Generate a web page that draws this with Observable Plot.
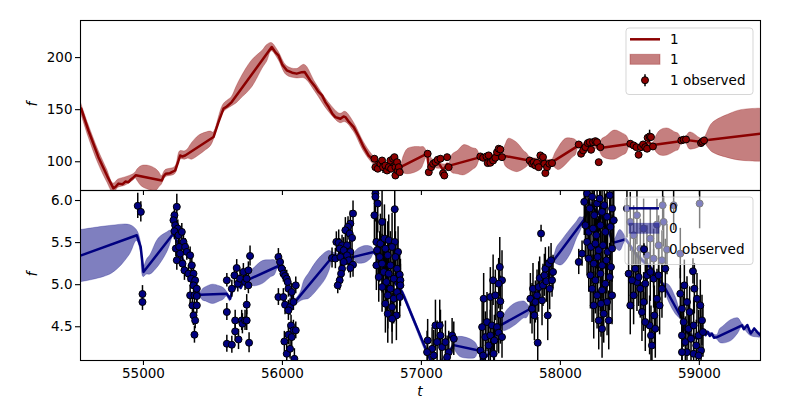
<!DOCTYPE html>
<html><head><meta charset="utf-8">
<script src="https://cdn.jsdelivr.net/npm/d3@7"></script>
<script src="https://cdn.jsdelivr.net/npm/@observablehq/plot@0.6"></script>
<style>
body{margin:0;background:#fff;font-family:"DejaVu Sans",sans-serif}
#wrap{position:relative;width:800px;height:400px;overflow:hidden}
#wrap svg.plotsvg{display:block}
.lab{position:absolute;font-family:"DejaVu Sans",sans-serif;font-style:italic;font-size:13.5px;line-height:14px;color:#000}
</style></head><body><div id="wrap"></div>
<script>
// ---------- shared x ----------
const xTicks = [55000, 56000, 57000, 58000, 59000];
const xDomain = [54547, 59440];

// ---------- series "1" (top panel) ----------
const yTicks1 = [100, 150, 200];
const yDomain1 = [72.4, 235.6];
const line1 = [
[54552,151],[54604,130],[54676,104.4],[54740,86],[54784,74.5],[54800,76],[54820,79],[54850,78.5],[54870,81],[54892,80.4],[54910,83],[54928,85],[54945,87],
[55132,82],[55145,86],[55160,88.5],[55190,89],[55228,91.6],[55250,100],[55264,106],[55280,105],[55300,106],
[55504,123.7],[55540,138],[55576,151],[55600,153],[55635,157.3],
[55923,210.2],[55950,205],[55971,202.2],[56000,193],[56031,187.8],[56070,185.5],[56103,184.6],[56140,186],[56160,186.2],
[56200,178],[56237,171.7],[56260,167],[56285,163.7],[56310,157],[56333,152.5],[56360,146],[56381,142.9],[56417,141.3],[56440,143.5],[56453,142.9],[56480,138],[56513,133.3],[56550,124],[56585,114],[56620,106],[56645,102.9],
[56662,102],[56690,96],[56720,97],[56760,95],[56800,98],[56830,95],[56849,94.8],
[57041,107.7],[57053,95],[57084,97],[57117,100],[57156,92],[57185,98],[57196,96],
[57425,104.4],[57470,103],[57500,104],[57540,107],[57580,106],
[57784,101],[57820,98],[57860,101],[57900,97],[57940,99.6],
[58132,115.7],[58170,113],[58210,116],[58250,117],[58276,113],
[58503,117.3],[58550,115],[58580,114],[58630,119],[58666,116],
[58875,120],[58900,121],[59018,119],[59030,120.5],[59438,127]
];
const band1 = [
[54552,146,156],[54604,124,136],[54676,98,111],[54740,80,92],[54784,70,79],[54820,75,83],[54870,77,85],[54928,82,88],[54945,84,90],
[54960,81,93],[54990,76,96],[55040,73,96],[55090,72,93],[55118,76,89],[55132,78,86],[55160,85,92],[55228,88,95],[55264,102,110],[55300,102,110],
[55320,103,112],[55350,102,118],[55400,106,125],[55450,111,128],[55485,115,129],[55504,120,128],[55576,147,155],[55635,153,162],
[55670,156,172],[55700,160,180],[55780,171,197],[55860,190,207],[55890,196,212],[55923,206,214],[55971,198,206],[56031,183,192],[56103,180,189],[56160,180,193],
[56237,167,176],[56333,148,157],[56417,137,146],[56453,138,148],[56513,129,138],[56585,110,119],[56645,99,107],[56700,93,100],[56760,92,98],[56849,92,97],
[56872,89,105],[56900,88,112],[56945,89,114],[57000,93,114],[57018,98,114],[57041,104,110],[57100,94,100],[57196,93,98],
[57225,89,107],[57260,88,110],[57310,87,116],[57370,92,113],[57398,95,112],[57425,102,107],[57500,101,107],[57580,104,109],
[57605,96,116],[57630,93,122],[57690,90,118],[57740,93,110],[57760,95,108],[57784,98,104],[57860,98,103],[57940,97,102],
[57963,94,108],[57990,92,114],[58040,97,122],[58090,104,122],[58110,106,121],[58132,113,118],[58210,113,118],[58276,111,116],
[58303,105,122],[58330,103,124],[58390,102,130],[58450,106,127],[58476,108,125],[58503,115,119],[58580,112,116],[58666,114,118],
[58692,109,125],[58720,106,130],[58770,106,132],[58830,110,128],[58850,111,127],[58875,118,122],[58900,119,123],
[58930,112,128],[58960,112,127],[59000,114,123],[59030,118,122],
[59095,109,137],[59223,103,146],[59300,101,149.5],[59438,100,151]
];
const obs1 = [
[56662,102.9,2.5],[56669,94.8,2.5],[56686,93.3,2.5],[56705,98.1,2.5],[56717,101.2,2.5],[56724,94.8,6],[56741,96.4,2.5],[56753,91.6,2.5],[56765,94.8,2.5],[56777,101.2,2.5],[56782,93.3,2.5],[56796,102.9,2.5],[56806,104.4,2.5],[56813,94.8,2.5],[56813,86.8,2.5],[56825,99.6,2.5],[56830,91.6,2.5],[56837,94.8,2.5],[56844,90,2.5],
[57045,107.7,2.5],[57053,90,2.5],[57070,94.8,2.5],[57084,98.1,2.5],[57101,99.6,2.5],[57117,101.9,2.5],[57137,102.9,2.5],[57156,89.0,2.5],[57165,86.8,2.5],[57185,104.4,2.5],[57196,94.8,2.5],
[57424,105.1,2.5],[57444,103.8,2.5],[57468,105.1,2.5],[57477,98.7,2.5],[57484,106.1,2.5],[57496,99,2.5],[57516,101.2,2.5],[57532,103.8,2.5],[57544,109.2,5],[57556,112.5,2.5],[57568,111.8,2.5],[57580,104.4,2.5],
[57779,101.2,2.5],[57796,98.1,2.5],[57808,99.6,2.5],[57820,96.4,2.5],[57832,99,2.5],[57844,94.8,2.5],[57856,106.1,2.5],[57875,104.4,2.5],[57885,98.1,2.5],[57892,89.1,2.5],[57904,94.8,2.5],[57921,98.1,2.5],[57940,98.7,2.5],
[58132,116.6,2.5],[58149,107.7,2.5],[58164,110.9,2.5],[58180,114,2.5],[58197,117.9,2.5],[58211,118.8,2.5],[58221,111.5,2.5],[58235,118.8,2.5],[58252,119.8,2.5],[58264,118.8,2.5],[58276,99.6,2.5],[58288,114,2.5],
[58503,117.3,2.5],[58527,115.7,2.5],[58547,114,2.5],[58563,106.7,2.5],[58580,114,2.5],[58595,116.6,2.5],[58611,114,5],[58624,112.5,2.5],[58628,123.1,2.5],[58642,124.3,6],[58652,123.7,2.5],[58666,114.7,2.5],
[58870,120.5,2.5],[58887,121.2,2.5],[58904,121.4,2.5],[59012,117.9,2.5],[59021,119.2,2.5],[59034,120.5,2.5]
];

// ---------- series "0" (bottom panel) ----------
const yTicks0 = [4.5, 5.0, 5.5, 6.0];
const yDomain0 = [4.099, 6.119];
const line0 = [
[54552,5.349],[54952,5.587],[54980,5.45],[55000,5.151],[55216,5.607],[55250,5.48],[55300,5.2],[55360,4.98],[55408,4.881],
[55599,4.893],[55624,4.833],[55640,4.932],[55660,4.97],[55680,5.0],[55700,4.96],[55720,5.03],[55743,5.051],
[55971,5.222],[56000,5.15],[56040,4.95],[56070,4.85],[56091,4.794],[56129,4.873],
[56369,5.349],[56420,5.33],[56470,5.32],[56513,5.33],[56657,5.389],[56700,5.3],[56760,5.15],[56820,5.0],[56861,4.913],
[57041,4.199],[57080,4.05],[57150,4.05],[57200,4.2],[57232,4.282],[57412,4.217],[57440,4.1],[57500,4.2],[57545,4.49],[57568,4.516],
[57784,4.714],[57820,4.85],[57870,5.0],[57904,5.167],[57952,5.289],[58168,5.765],[58220,5.95],[58300,5.8],[58384,5.50],[58470,5.54],
[58550,5.35],[58650,5.2],[58743,4.99],[58875,4.595],[58900,4.45],[58950,4.38],[58990,4.36],[59031,4.437],
[59045,4.40],[59060,4.44],[59075,4.39],[59090,4.42],[59105,4.37],[59127,4.377],[59307,4.516],[59320,4.47],[59345,4.52],[59370,4.42],[59395,4.48],[59420,4.43],[59438,4.40]
];
const band0 = [
[54552,5.03,5.65],[54772,5.13,5.70],[54900,5.35,5.71],[54952,5.52,5.65],[54980,5.40,5.52],[55000,5.09,5.20],
[55026,5.12,5.30],[55050,5.12,5.35],[55110,5.22,5.55],[55170,5.38,5.62],[55190,5.46,5.64],[55216,5.57,5.64],[55300,5.17,5.23],[55408,4.85,4.91],
[55430,4.81,4.95],[55450,4.80,4.97],[55500,4.77,5.00],[55550,4.80,4.98],[55577,4.82,4.96],[55599,4.86,4.92],[55624,4.80,4.86],[55640,4.90,4.96],[55743,5.02,5.08],
[55770,4.99,5.15],[55800,4.98,5.20],[55860,5.01,5.28],[55920,5.09,5.29],[55944,5.11,5.29],[55971,5.19,5.25],[56040,4.92,4.98],[56091,4.76,4.83],[56129,4.80,4.90],
[56158,4.82,5.05],[56190,4.83,5.13],[56250,4.93,5.28],[56310,5.06,5.38],[56340,5.17,5.40],[56369,5.31,5.38],[56440,5.30,5.36],[56513,5.30,5.36],
[56530,5.27,5.40],[56550,5.25,5.43],[56600,5.26,5.46],[56640,5.31,5.45],[56657,5.36,5.42],[56760,5.12,5.18],[56861,4.88,4.95],[56950,4.53,4.60],[57041,4.17,4.23],
[57100,4.02,4.08],[57180,4.10,4.16],[57232,4.25,4.31],[57253,4.19,4.37],[57280,4.14,4.38],[57340,4.12,4.36],[57390,4.13,4.31],[57412,4.19,4.25],[57480,4.15,4.21],[57568,4.49,4.55],
[57594,4.45,4.63],[57620,4.46,4.70],[57680,4.52,4.78],[57740,4.60,4.80],[57758,4.60,4.78],[57784,4.68,4.74],[57870,4.97,5.03],[57952,5.26,5.32],
[57978,5.24,5.45],[58010,5.23,5.52],[58070,5.35,5.65],[58120,5.55,5.75],[58142,5.62,5.80],[58168,5.73,5.80],[58220,5.92,5.98],[58300,5.77,5.83],
[58384,5.47,5.53],[58430,5.40,5.65],[58470,5.51,5.57],[58550,5.32,5.38],[58650,5.17,5.23],[58743,4.96,5.02],
[58780,4.80,5.00],[58830,4.65,4.85],[58875,4.57,4.62],[58950,4.35,4.41],[59031,4.41,4.46],[59127,4.35,4.40],
[59148,4.31,4.47],[59170,4.30,4.50],[59230,4.33,4.58],[59280,4.42,4.60],[59307,4.49,4.54],[59370,4.39,4.45],[59438,4.37,4.43]
];
const obs0 = [
[54959,5.937,0.15],[54981,5.865,0.12],[54993,4.889,0.1],[54993,4.794,0.1],
[55240,5.925,0.15],[55223,5.825,0.12],[55216,5.766,0.1],[55228,5.706,0.12],[55247,5.667,0.1],[55223,5.635,0.1],[55252,5.587,0.12],[55276,5.627,0.1],[55288,5.508,0.12],[55233,5.429,0.1],[55257,5.449,0.12],[55300,5.449,0.1],[55240,5.290,0.12],[55264,5.369,0.1],[55281,5.250,0.12],[55312,5.389,0.1],[55295,5.171,0.12],[55336,5.349,0.1],[55324,5.131,0.1],[55348,5.230,0.12],[55360,5.131,0.1],[55343,5.071,0.12],[55372,5.052,0.1],[55360,4.992,0.1],[55336,4.873,0.12],[55384,4.952,0.1],[55367,4.873,0.1],[55352,4.754,0.12],[55384,4.754,0.1],[55360,4.635,0.12],[55372,4.575,0.1],[55367,4.405,0.1],[55384,4.865,0.1],
[55600,5.052,0.08],[55600,4.675,0.1],[55600,4.298,0.1],[55636,4.952,0.1],[55636,4.286,0.1],[55655,5.111,0.1],[55660,4.575,0.12],[55660,4.445,0.12],[55671,5.198,0.1],[55679,5.012,0.1],[55684,4.349,0.12],[55695,5.071,0.1],[55707,4.575,0.12],[55712,4.536,0.12],[55719,5.151,0.1],[55731,4.575,0.12],[55731,5.032,0.1],[55743,4.762,0.12],[55743,4.575,0.12],[55755,5.171,0.1],[55755,4.992,0.1],[55760,4.310,0.12],[55767,5.341,0.12],[55743,5.071,0.1],
[55971,5.329,0.1],[55983,5.270,0.1],[55995,5.190,0.1],[56007,5.131,0.1],[56019,5.103,0.1],[56031,5.071,0.1],[56038,5.032,0.1],[55971,4.853,0.1],[56007,4.853,0.1],[56043,4.952,0.1],[56067,4.913,0.1],[56096,4.992,0.1],[56019,4.762,0.12],[56055,4.734,0.1],[56079,4.794,0.1],[56043,4.695,0.12],[56062,4.516,0.12],[56079,4.457,0.12],[56096,4.457,0.1],[56043,4.405,0.12],[56067,4.377,0.12],[56014,4.325,0.12],[56031,4.179,0.12],[56055,4.238,0.12],[56086,4.119,0.12],
[56508,5.845,0.15],[56489,5.726,0.15],[56472,5.687,0.12],[56453,5.647,0.15],[56484,5.607,0.12],[56501,5.556,0.15],[56388,5.508,0.12],[56405,5.500,0.15],[56429,5.468,0.12],[56465,5.468,0.15],[56412,5.429,0.12],[56441,5.409,0.15],[56489,5.389,0.12],[56357,5.317,0.12],[56381,5.310,0.12],[56417,5.329,0.15],[56465,5.349,0.12],[56477,5.290,0.15],[56441,5.270,0.12],[56508,5.238,0.15],[56489,5.198,0.12],[56429,5.190,0.15],[56422,5.131,0.12],[56412,5.052,0.12],[56398,4.992,0.1],
[56669,6.083,0.3],[56686,5.964,0.35],[56669,6.044,0.3],[56662,5.825,0.3],[56717,5.746,0.4],[56808,5.897,0.45],[56676,5.508,0.3],[56705,5.488,0.35],[56734,5.548,0.4],[56765,5.528,0.3],[56808,5.508,0.35],[56832,5.389,0.3],[56789,5.448,0.4],[56681,5.409,0.3],[56741,5.429,0.35],[56700,5.329,0.3],[56758,5.349,0.4],[56813,5.329,0.3],[56676,5.230,0.3],[56717,5.250,0.35],[56777,5.230,0.4],[56825,5.190,0.3],[56729,5.151,0.35],[56765,5.131,0.3],[56844,5.119,0.3],[56693,5.091,0.3],[56801,5.071,0.4],[56748,5.032,0.35],[56849,5.052,0.25],[56717,4.972,0.3],[56777,4.952,0.35],[56825,4.913,0.3],[56758,4.873,0.4],[56801,4.833,0.3],[56844,4.853,0.25],[56741,4.774,0.35],[56789,4.734,0.3],[56758,4.655,0.35],[56820,4.635,0.3],[56789,4.595,0.3],[56849,4.992,0.25],
[57045,4.337,0.25],[57101,4.516,0.3],[57132,4.516,0.3],[57077,4.238,0.25],[57113,4.318,0.25],[57149,4.258,0.3],[57173,4.318,0.25],[57197,4.198,0.25],[57221,4.397,0.2],[57233,4.357,0.2],[57137,4.397,0.3],[57041,4.198,0.25],[57089,4.159,0.3],[57185,4.139,0.25],
[57564,5.210,0.35],[57516,5.052,0.3],[57580,5.052,0.35],[57556,5.012,0.3],[57448,4.833,0.3],[57496,4.853,0.35],[57568,4.802,0.3],[57532,4.873,0.3],[57437,4.496,0.3],[57472,4.556,0.35],[57508,4.516,0.3],[57544,4.496,0.3],[57568,4.643,0.35],[57460,4.377,0.3],[57496,4.397,0.3],[57525,4.337,0.3],[57556,4.429,0.25],[57425,4.218,0.3],[57484,4.278,0.3],[57520,4.179,0.3],[57444,4.159,0.3],[57580,4.377,0.25],
[57784,4.833,0.3],[57796,4.714,0.3],[57803,4.952,0.3],[57813,4.635,0.3],[57820,4.794,0.25],[57832,4.873,0.3],[57837,4.310,0.3],[57844,4.972,0.3],[57851,5.079,0.25],[57861,5.607,0.1],[57868,4.813,0.3],[57875,4.992,0.25],[57885,5.111,0.25],[57892,5.190,0.25],[57899,5.040,0.25],[57909,4.635,0.3],[57916,5.250,0.2],[57923,4.952,0.25],[57933,5.290,0.2],[57940,5.052,0.2],[57947,5.151,0.2],
[58132,5.270,0.15],[58156,5.369,0.15],
[58172,5.984,0.4],[58192,6.083,0.4],[58211,5.905,0.45],[58228,6.044,0.4],[58244,5.825,0.4],[58264,5.964,0.45],[58283,6.024,0.4],[58300,5.865,0.4],[58316,5.944,0.45],[58336,5.806,0.4],[58355,6.063,0.4],[58372,5.905,0.4],[58384,5.766,0.35],
[58180,5.706,0.4],[58204,5.627,0.4],[58235,5.667,0.45],[58259,5.587,0.4],[58288,5.706,0.4],[58324,5.627,0.45],[58360,5.687,0.4],
[58192,5.508,0.4],[58220,5.448,0.45],[58252,5.488,0.4],[58276,5.409,0.4],[58307,5.468,0.45],[58340,5.389,0.4],[58372,5.429,0.4],
[58204,5.310,0.4],[58240,5.250,0.4],[58268,5.329,0.45],[58300,5.230,0.4],[58331,5.290,0.4],[58364,5.210,0.4],
[58216,5.111,0.4],[58252,5.052,0.4],[58288,5.131,0.45],[58324,5.012,0.4],[58355,5.091,0.4],
[58228,4.952,0.4],[58264,4.873,0.4],[58300,4.933,0.45],[58336,4.794,0.4],[58372,4.873,0.35],[58240,4.754,0.4],[58292,4.774,0.4],[58312,4.655,0.35],[58276,4.575,0.35],[58348,4.575,0.35],[58300,4.476,0.35],
[58479,5.905,0.35],[58503,5.746,0.35],[58527,5.587,0.35],[58551,5.825,0.35],[58575,5.429,0.35],[58599,5.667,0.35],[58623,5.349,0.35],[58647,5.548,0.35],[58671,5.310,0.35],[58707,5.468,0.35],[58731,5.290,0.35],
[58736,5.944,0.3],[58815,5.944,0.3],[59002,5.964,0.3],[58695,5.714,0.3],[58743,5.746,0.3],[58767,5.417,0.3],[58863,5.369,0.3],
[58503,4.754,0.35],[58527,4.873,0.35],[58551,5.032,0.35],[58575,4.952,0.35],[58599,4.794,0.35],[58623,5.111,0.35],[58642,4.516,0.35],[58659,4.278,0.35],[58676,4.635,0.35],[58695,4.833,0.35],[58714,4.754,0.35],[58731,4.952,0.35],[58755,5.190,0.35],
[58491,5.131,0.35],[58515,5.052,0.35],[58539,5.190,0.35],[58563,5.091,0.35],[58611,5.012,0.35],[58647,5.151,0.35],[58671,5.071,0.35],[58707,5.111,0.35],[58587,4.675,0.35],[58652,4.397,0.35],[58683,4.476,0.35],[58611,4.556,0.35],
[58863,4.893,0.3],[58892,4.992,0.3],[58911,4.794,0.3],[58875,4.714,0.3],[58930,4.675,0.3],[58954,5.159,0.15],[58964,4.952,0.3],[58983,4.833,0.3],[59007,4.754,0.3],[59019,4.575,0.3],
[58887,4.556,0.3],[58923,4.476,0.3],[58959,4.516,0.3],[58995,4.397,0.3],[59026,4.437,0.3],[58875,4.397,0.3],[58899,4.318,0.3],[58940,4.357,0.3],[58978,4.278,0.3],[59012,4.218,0.3],[58911,4.198,0.3],[58875,4.198,0.3],[58959,4.179,0.3],[58995,4.159,0.3]
];

// ---------- drawing ----------
const wrap = document.getElementById("wrap");
function panel({line, band, obs, color, yDomain, yTicks, yFormat, height, marginTop, marginBottom, showX}) {
  const L = line.map(([t, f]) => ({t, f}));
  const B = d3.sort(band.map(([t, lo, hi]) => ({t, lo, hi})), d => d.t);
  const O = obs.map(([t, f, e]) => ({t, f, e}));
  return Plot.plot({
    width: 800, height, marginLeft: 80, marginRight: 40, marginTop, marginBottom,
    style: {background: "transparent", overflow: "visible", fontFamily: "DejaVu Sans", fontSize: "13.5px", color: "black"},
    x: {domain: xDomain, label: null},
    y: {domain: yDomain, label: null},
    marks: [
      Plot.areaY(B, {x: "t", y1: "lo", y2: "hi", curve: "catmull-rom", fill: color, fillOpacity: 0.5, stroke: color, strokeOpacity: 0.25, strokeWidth: 1, clip: true}),
      Plot.lineY(L, {x: "t", y: "f", stroke: color, strokeWidth: 2.5, clip: true}),
      Plot.ruleX(O, {x: "t", y1: d => d.f - d.e, y2: d => d.f + d.e, stroke: "black", strokeWidth: 1.5, clip: true}),
      Plot.dot(O, {x: "t", y: "f", r: 3.5, fill: color, stroke: "black", strokeWidth: 1, clip: true}),
      Plot.axisX({ticks: xTicks, tickSize: 5, tickPadding: 3, strokeWidth: 1.1, label: null,
                  tickFormat: showX ? d3.format("d") : () => ""}),
      Plot.axisY({ticks: yTicks, tickSize: 5, tickPadding: 3, strokeWidth: 1.1, label: null, tickFormat: yFormat}),
      Plot.frame({stroke: "black", strokeWidth: 1.1})
    ]
  });
}
const topPlot = panel({line: line1, band: band1, obs: obs1, color: "#8b0000", yDomain: yDomain1, yTicks: yTicks1,
  yFormat: d3.format("d"), height: 190, marginTop: 20, marginBottom: 0, showX: false});
const botPlot = panel({line: line0, band: band0, obs: obs0, color: "#000080", yDomain: yDomain0, yTicks: yTicks0,
  yFormat: d3.format(".1f"), height: 210, marginTop: 0, marginBottom: 40, showX: true});
topPlot.classList.add("plotsvg"); botPlot.classList.add("plotsvg");
topPlot.style.position = "relative"; topPlot.style.zIndex = 2;
wrap.appendChild(topPlot); wrap.appendChild(botPlot);

function legend(x, y, w, h, color, name, bgAlpha) {
  const svg = d3.create("svg").attr("width", w + 2).attr("height", h + 2)
    .style("position", "absolute").style("left", (x - 1) + "px").style("top", (y - 1) + "px").style("z-index", 3);
  svg.append("rect").attr("x", 1).attr("y", 1).attr("width", w).attr("height", h).attr("rx", 3)
    .attr("fill", "white").attr("fill-opacity", bgAlpha).attr("stroke", "#cccccc").attr("stroke-opacity", 0.8);
  const r = [12.3, 32.3, 53.2];
  svg.append("line").attr("x1", 5).attr("x2", 35).attr("y1", r[0]).attr("y2", r[0]).attr("stroke", color).attr("stroke-width", 2.5);
  svg.append("rect").attr("x", 5).attr("y", r[1] - 5).attr("width", 30).attr("height", 10)
    .attr("fill", color).attr("fill-opacity", 0.5).attr("stroke", color).attr("stroke-opacity", 0.3);
  svg.append("line").attr("x1", 20).attr("x2", 20).attr("y1", r[2] - 6).attr("y2", r[2] + 6).attr("stroke", "black").attr("stroke-width", 1.5);
  svg.append("circle").attr("cx", 20).attr("cy", r[2]).attr("r", 3.5).attr("fill", color).attr("stroke", "black");
  [name, name, name + " observed"].forEach((s, i) => {
    svg.append("text").attr("x", 45).attr("y", r[i]).attr("dy", "0.36em")
      .attr("font-family", "DejaVu Sans").attr("font-size", "13.5px").text(s);
  });
  wrap.appendChild(svg.node());
}
legend(626, 27.5, 127, 66.5, "#8b0000", "1", 0.8);
legend(625, 197, 128, 67.5, "#000080", "0", 0.5);

function label(text, x, y, rotate) {
  const d = document.createElement("div");
  d.className = "lab"; d.textContent = text;
  d.style.left = x + "px"; d.style.top = y + "px";
  d.style.transform = "translate(-50%,-50%)" + (rotate ? " rotate(-90deg)" : "");
  wrap.appendChild(d);
}
label("f", 32, 104, true);
label("f", 32, 274, true);
label("t", 420, 391, false);
</script>
</body></html>
